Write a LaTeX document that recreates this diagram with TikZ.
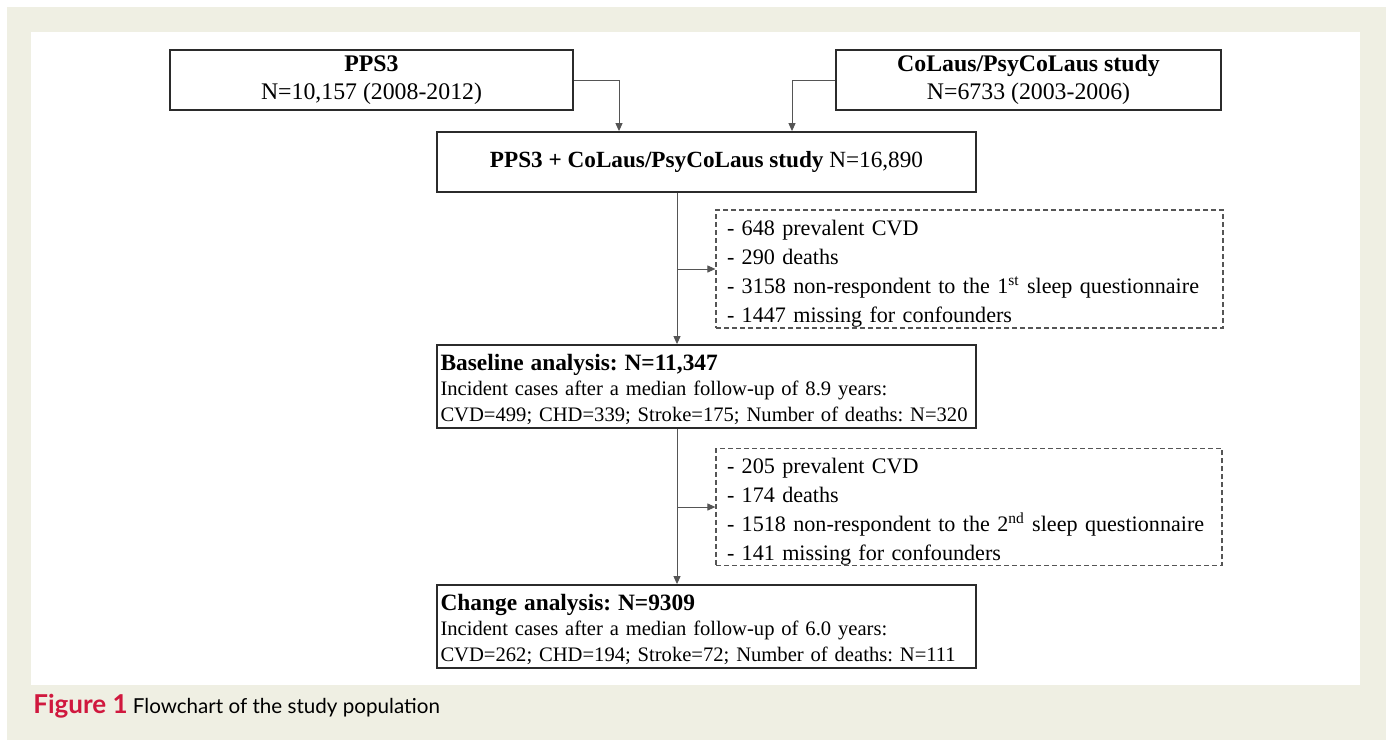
\documentclass[tikz,border=0pt]{standalone}
\usepackage{fontspec}
\setmainfont{Liberation Serif}
\newfontfamily\capfont{Lato}
\usetikzlibrary{arrows.meta}
\frenchspacing

\definecolor{pagebg}{HTML}{EFEFE3}
\definecolor{figred}{HTML}{D0183E}
\definecolor{boxline}{HTML}{2B2B2B}
\definecolor{linkgray}{HTML}{555555}

\newcommand{\boxtitle}{\bfseries\fontsize{11.7}{12.75}\selectfont}

\tikzset{
  box/.style={draw=boxline, line width=0.9pt, inner sep=0pt, align=center},
  topbox/.style={box, minimum height=30pt, font=\fontsize{11.9}{14}\selectfont,
    execute at begin node={\rule{0pt}{13pt}}},
  leftbox/.style={box, align=left, inner xsep=1.75pt, text width=266pt, minimum height=41.5pt,
    font=\fontsize{10.3}{12.75}\selectfont, execute at begin node={\rule{0pt}{11pt}}},
  dashbox/.style={draw=linkgray, line width=0.6pt, dash pattern=on 2.5pt off 1.5pt, align=left,
    inner xsep=5.5pt, inner ysep=0pt, font=\fontsize{11.06}{14.5}\selectfont,
    execute at begin node={\rule{0pt}{12.5pt}}},
  arr/.style={draw=linkgray, line width=0.5pt, -{Triangle[length=4pt,width=3.5pt]}}
}

\begin{document}
\begin{tikzpicture}[x=0.5pt, y=-0.5pt, font=\fontsize{11.7}{14}\selectfont]

\fill[pagebg] (7,7) rectangle (1386,740);
\fill[white] (31,32) rectangle (1360,685);
\useasboundingbox (0,0) rectangle (1386,740);

\coordinate (trunk) at (677,0);

\node[topbox, minimum width=201.5pt] (pps) at (371.5,80)
  {\textbf{PPS3}\\N=10,157 (2008-2012)};
\node[topbox, minimum width=192.5pt] (colaus) at (1028.5,80)
  {\textbf{CoLaus/PsyCoLaus study}\\N=6733 (2003-2006)};
\node[box, minimum width=269.5pt, minimum height=30pt, font=\fontsize{11.6}{14}\selectfont] (comb) at (706.5,162)
  {\textbf{PPS3 + CoLaus/PsyCoLaus study} N=16,890};

\node[dashbox, text width=242.5pt, minimum height=59pt] (dashA) at (969.5,269)
  {- 648 prevalent CVD\\
   - 290 deaths\\
   - 3158 non-respondent to the 1\textsuperscript{st} sleep questionnaire\\
   - 1447 missing for confounders};

\node[leftbox] (base) at (706.5,386.5)
  {{\boxtitle Baseline analysis: N=11,347}\\
   Incident cases after a median follow-up of 8.9 years:\\
   CVD=499; CHD=339; Stroke=175; Number of deaths: N=320};

\node[dashbox, text width=242pt, minimum height=58pt] (dashB) at (969,507)
  {- 205 prevalent CVD\\
   - 174 deaths\\
   - 1518 non-respondent to the 2\textsuperscript{nd} sleep questionnaire\\
   - 141 missing for confounders};

\node[leftbox] (change) at (706.5,626.5)
  {{\boxtitle Change analysis: N=9309}\\
   Incident cases after a median follow-up of 6.0 years:\\
   CVD=262; CHD=194; Stroke=72; Number of deaths: N=111};

\draw[arr] (pps.east) -| ([xshift=-43.75pt]comb.north);
\draw[arr] (colaus.west) -| ([xshift=42.75pt]comb.north);
\draw[arr] (trunk |- comb.south) -- (trunk |- base.north);
\draw[arr] (trunk |- dashA.west) -- (dashA.west);
\draw[arr] (trunk |- base.south) -- (trunk |- change.north);
\draw[arr] (trunk |- dashB.west) -- (dashB.west);

\node[anchor=base west, inner sep=0pt, font=\capfont\fontsize{10.3}{13}\selectfont] (cap) at (33,713)
  {\textcolor{figred}{\fontsize{13}{13}\selectfont\bfseries Figure 1} Flowchart of the study population};

\end{tikzpicture}
\end{document}
